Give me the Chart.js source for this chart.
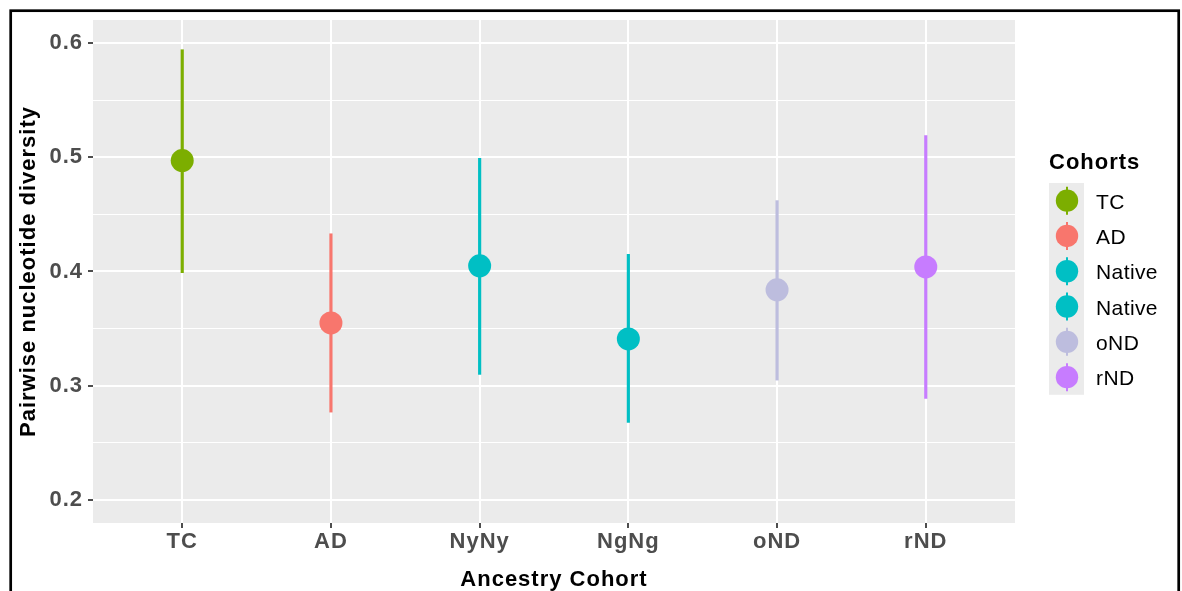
<!DOCTYPE html>
<html>
<head>
<meta charset="utf-8">
<title>Pairwise nucleotide diversity by ancestry cohort</title>
<script src="https://cdn.jsdelivr.net/npm/chart.js@4.4.1/dist/chart.umd.min.js"></script>
<style>
  html, body { margin: 0; padding: 0; background: #ffffff; }
  #wrap { width: 1182px; height: 591px; position: relative; overflow: hidden; }
  canvas { display: block; }
</style>
</head>
<body>
<div id="wrap"><canvas id="chart" width="1182" height="591"></canvas></div>
<script>
// Cohorts along the x axis
const categories = ['TC', 'AD', 'NyNy', 'NgNg', 'oND', 'rND'];
// Legend entries (one per cohort, in the same order)
const legendLabels = ['TC', 'AD', 'Native', 'Native', 'oND', 'rND'];
// Mean pairwise nucleotide diversity per cohort
const meanDiversity = [0.497, 0.355, 0.405, 0.341, 0.384, 0.404];
// Lower and upper ends of each interval
const lowerBound = [0.399, 0.277, 0.310, 0.268, 0.305, 0.289];
const upperBound = [0.594, 0.433, 0.499, 0.415, 0.462, 0.519];
// Cohort colours
const cohortColors = ['#7CAE00', '#F8766D', '#00BFC4', '#00BFC4', '#BDBDDE', '#C77CFF'];
// Y axis: labelled breaks and minor breaks
const yMajorTicks = [0.2, 0.3, 0.4, 0.5, 0.6];
const yMinorTicks = [0.25, 0.35, 0.45, 0.55];

const FONT = '"Liberation Sans", Arial, Helvetica, sans-serif';
const isMajor = v => yMajorTicks.some(t => Math.abs(t - v) < 1e-9);

// Grey panel behind the plotting region; slightly wider letter spacing for axis text
const panelPlugin = {
  id: 'panel',
  beforeDraw(chart) {
    const { ctx, chartArea: a } = chart;
    ctx.letterSpacing = '1px';
    ctx.save();
    ctx.fillStyle = '#EBEBEB';
    ctx.fillRect(a.left, a.top, a.right - a.left, a.bottom - a.top);
    ctx.restore();
  }
};

// Legend with grey key boxes, and the outer frame
const legendPlugin = {
  id: 'cohortLegend',
  afterDraw(chart) {
    const { ctx } = chart;
    const x0 = 1049, keyW = 35, keyTop = 183, keyH = 35.3;
    ctx.save();
    ctx.fillStyle = '#000000';
    ctx.font = 'bold 22px ' + FONT;
    ctx.letterSpacing = '1px';
    ctx.textBaseline = 'alphabetic';
    ctx.textAlign = 'left';
    ctx.fillText('Cohorts', x0, 169);

    ctx.fillStyle = '#EBEBEB';
    ctx.fillRect(x0, keyTop, keyW, keyH * legendLabels.length);

    ctx.letterSpacing = '0.4px';
    legendLabels.forEach((label, i) => {
      const cy = keyTop + keyH * (i + 0.5);
      const cx = x0 + keyW / 2 + 0.5;
      ctx.strokeStyle = cohortColors[i];
      ctx.lineWidth = 2;
      ctx.beginPath();
      ctx.moveTo(cx, cy - 14);
      ctx.lineTo(cx, cy + 14);
      ctx.stroke();
      ctx.fillStyle = cohortColors[i];
      ctx.beginPath();
      ctx.arc(cx, cy, 11.2, 0, Math.PI * 2);
      ctx.fill();
      ctx.fillStyle = '#000000';
      ctx.font = '21px ' + FONT;
      ctx.fillText(label, 1096, cy + 8);
    });

    // outer frame
    ctx.strokeStyle = '#000000';
    ctx.lineWidth = 2.7;
    ctx.strokeRect(10.7, 10.7, 1178.7 - 10.7, 620);
    ctx.restore();
  }
};

const rangeData = categories.map((c, i) => ({ x: i, y: [lowerBound[i], upperBound[i]] }));
const meanData = categories.map((c, i) => ({ x: i, y: meanDiversity[i] }));

new Chart(document.getElementById('chart'), {
  data: {
    datasets: [
      {
        type: 'line',
        label: 'mean',
        data: meanData,
        showLine: false,
        pointRadius: 11.5,
        pointHoverRadius: 11.5,
        pointBorderWidth: 0,
        pointBackgroundColor: cohortColors,
        pointBorderColor: cohortColors,
        order: 1
      },
      {
        type: 'bar',
        label: 'range',
        data: rangeData,
        backgroundColor: cohortColors,
        borderWidth: 0,
        barThickness: 2.5,
        grouped: false,
        order: 2
      }
    ]
  },
  options: {
    responsive: false,
    animation: false,
    devicePixelRatio: 1,
    layout: { padding: { left: 0, top: 20, right: 167, bottom: 0 } },
    plugins: {
      legend: { display: false },
      tooltip: { enabled: false }
    },
    scales: {
      x: {
        type: 'linear',
        offset: false,
        min: -0.6,
        max: categories.length - 1 + 0.6,
        afterBuildTicks(scale) {
          scale.ticks = categories.map((c, i) => ({ value: i }));
        },
        afterFit(scale) { scale.height = 68; },
        ticks: {
          callback: (v) => categories[v],
          color: '#4D4D4D',
          font: { family: FONT, size: 22, weight: 'bold' },
          padding: 1,
          maxRotation: 0,
          autoSkip: false
        },
        grid: {
          offset: false,
          color: '#FFFFFF',
          lineWidth: 2,
          tickColor: '#4D4D4D',
          tickLength: 5,
          tickWidth: 2
        },
        border: { display: false },
        title: {
          display: true,
          text: 'Ancestry Cohort',
          color: '#000000',
          font: { family: FONT, size: 22, weight: 'bold', lineHeight: 1 },
          padding: { top: 0, bottom: 0 }
        }
      },
      y: {
        type: 'linear',
        min: 0.18,
        max: 0.62,
        afterBuildTicks(scale) {
          scale.ticks = yMajorTicks.concat(yMinorTicks)
            .sort((a, b) => a - b)
            .map(v => ({ value: v }));
        },
        afterFit(scale) { scale.width = 93; },
        ticks: {
          callback: (v) => isMajor(v) ? v.toFixed(1) : '',
          color: '#4D4D4D',
          font: { family: FONT, size: 22, weight: 'bold' },
          padding: 5
        },
        grid: {
          color: '#FFFFFF',
          lineWidth: (c) => (c.tick && isMajor(c.tick.value)) ? 2 : 1,
          tickColor: (c) => (c.tick && isMajor(c.tick.value)) ? '#4D4D4D' : 'rgba(0,0,0,0)',
          tickLength: 5,
          tickWidth: 2
        },
        border: { display: false },
        title: {
          display: true,
          text: 'Pairwise nucleotide diversity',
          color: '#000000',
          font: { family: FONT, size: 22, weight: 'bold', lineHeight: 1 },
          padding: { top: 18, bottom: 0 }
        }
      }
    }
  },
  plugins: [panelPlugin, legendPlugin]
});
</script>
</body>
</html>
